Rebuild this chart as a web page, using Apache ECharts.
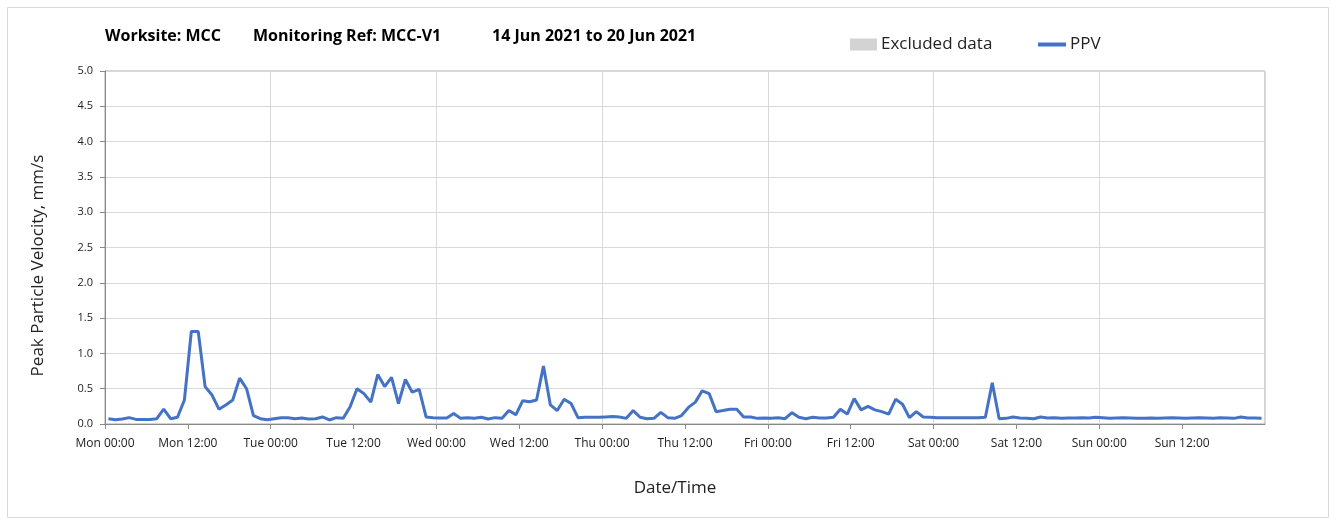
<!DOCTYPE html>
<html>
<head>
<meta charset="utf-8">
<script src="https://cdn.jsdelivr.net/npm/echarts@6/dist/echarts.min.js"></script>
<style>
html,body{margin:0;padding:0;background:#fff;}
#chart{width:1336px;height:524px;}
</style>
</head>
<body>
<div id="chart"></div>
<script>
// ---- data ----
const dayNames = ['Mon','Tue','Wed','Thu','Fri','Sat','Sun'];
const yTicks = [0,0.5,1,1.5,2,2.5,3,3.5,4,4.5,5];
// hourly PPV (mm/s), Mon 00:00 .. Sun 23:00
const ppvMon = [0.075,0.06,0.07,0.09,0.065,0.065,0.065,0.075,0.21,0.075,0.095,0.34,1.31,1.31,0.53,0.41,0.21,0.27,0.34,0.65,0.50,0.12,0.075,0.06];
const ppvTue = [0.075,0.09,0.09,0.075,0.085,0.07,0.075,0.10,0.057,0.09,0.08,0.245,0.50,0.43,0.31,0.70,0.53,0.66,0.29,0.63,0.45,0.49,0.10,0.09];
const ppvWed = [0.085,0.085,0.15,0.08,0.09,0.08,0.095,0.07,0.09,0.08,0.19,0.13,0.33,0.315,0.34,0.82,0.27,0.19,0.35,0.29,0.09,0.095,0.095,0.095];
const ppvThu = [0.10,0.105,0.10,0.08,0.19,0.095,0.075,0.08,0.165,0.09,0.08,0.12,0.235,0.31,0.47,0.43,0.175,0.19,0.21,0.21,0.10,0.10,0.08,0.085];
const ppvFri = [0.08,0.09,0.075,0.16,0.095,0.075,0.095,0.085,0.085,0.095,0.21,0.14,0.36,0.20,0.25,0.20,0.175,0.14,0.35,0.28,0.09,0.175,0.10,0.095];
const ppvSat = [0.09,0.09,0.09,0.09,0.09,0.09,0.09,0.095,0.585,0.075,0.08,0.10,0.085,0.08,0.075,0.10,0.085,0.09,0.08,0.085,0.085,0.09,0.085,0.095];
const ppvSun = [0.09,0.08,0.085,0.09,0.085,0.08,0.08,0.085,0.08,0.085,0.09,0.085,0.08,0.085,0.09,0.085,0.08,0.09,0.085,0.08,0.10,0.085,0.085,0.08];
const titleParts = ['Worksite: MCC','Monitoring Ref: MCC-V1','14 Jun 2021 to 20 Jun 2021'];

const ppv = [].concat(ppvMon,ppvTue,ppvWed,ppvThu,ppvFri,ppvSat,ppvSun);
const seriesData = ppv.map((v,i)=>[i+0.5, v]);

const FONT = '"Open Sans", "Liberation Sans", sans-serif';
const chart = echarts.init(document.getElementById('chart'), null, {renderer:'canvas'});
chart.setOption({
  animation:false,
  backgroundColor:'#fff',
  textStyle:{fontFamily:FONT},
  graphic:[
    {type:'rect', shape:{x:7.5,y:7.5,width:1321,height:510}, style:{fill:'none', stroke:'#d9d9d9', lineWidth:1}, silent:true, z:-1},
    {type:'text', left:105, top:28, style:{text:titleParts[0], font:'bold 16px '+FONT, fill:'#000'}},
    {type:'text', left:253, top:28, style:{text:titleParts[1], font:'bold 16px '+FONT, fill:'#000'}},
    {type:'text', left:492, top:28, style:{text:titleParts[2], font:'bold 16px '+FONT, fill:'#000'}}
  ],
  legend:[
    {data:[{name:'Excluded data', icon:'rect'}], left:845, top:31, itemWidth:27, itemHeight:12, itemGap:4,
     textStyle:{fontSize:17, color:'#222', fontFamily:FONT, padding:[0,0,0,-1]}},
    {data:[{name:'PPV', icon:'rect'}], left:1033, top:31, itemWidth:28, itemHeight:4,
     textStyle:{fontSize:17, color:'#222', fontFamily:FONT, padding:[0,0,0,-1]}}
  ],
  grid:{left:105, right:71, top:71, bottom:100, show:true, borderColor:'#a6a6a6', borderWidth:1},
  xAxis:{
    type:'value', min:0, max:168, interval:12,
    name:'Date/Time', nameLocation:'middle', nameGap:56,
    nameTextStyle:{fontSize:17, color:'#222', fontFamily:FONT, padding:[0,20,0,0]},
    axisLine:{show:true, lineStyle:{color:'#898989', width:1}},
    axisTick:{show:true, length:5, lineStyle:{color:'#898989'}},
    axisLabel:{show:true, fontSize:12, color:'#222', margin:14, showMaxLabel:false,
      formatter:function(v){ const d=Math.floor(v/24); return dayNames[d] + (v%24===0?' 00:00':' 12:00'); }},
    splitLine:{show:true, lineStyle:{color:['#d9d9d9','rgba(0,0,0,0)'], width:1}}
  },
  yAxis:{
    type:'value', min:yTicks[0], max:yTicks[yTicks.length-1], interval:0.5,
    name:'Peak Particle Velocity, mm/s', nameLocation:'middle', nameGap:58,
    nameTextStyle:{fontSize:17, color:'#222', fontFamily:FONT, padding:[0,36,0,0]},
    axisLine:{show:true, lineStyle:{color:'#898989', width:1}},
    axisTick:{show:true, length:5, lineStyle:{color:'#898989'}},
    axisLabel:{fontSize:11, color:'#222', margin:12, formatter:function(v){return v.toFixed(1);}},
    splitLine:{show:true, lineStyle:{color:'#d9d9d9', width:1}}
  },
  series:[
    {name:'Excluded data', type:'line', data:[], itemStyle:{color:'#d3d3d3'}},
    {name:'PPV', type:'line', data:seriesData, showSymbol:false, symbol:'none',
     lineStyle:{color:'#4472c4', width:3}, itemStyle:{color:'#4472c4'}}
  ]
});
</script>
</body>
</html>
